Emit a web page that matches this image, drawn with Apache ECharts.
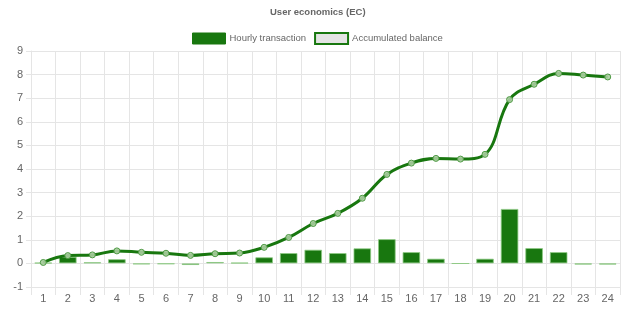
<!DOCTYPE html>
<html>
<head>
<meta charset="utf-8">
<style>html,body{margin:0;padding:0;background:#fff;}#c{width:626px;height:309px;}</style>
<script src="https://cdn.jsdelivr.net/npm/echarts@6/dist/echarts.min.js"></script>
</head>
<body>
<div id="c"></div>
<script>
var categories = ['1','2','3','4','5','6','7','8','9','10','11','12','13','14','15','16','17','18','19','20','21','22','23','24'];
var hourlyTransaction = [0.03,0.28,0.05,0.18,-0.04,-0.03,-0.07,0.06,0.03,0.26,0.44,0.58,0.44,0.64,1.03,0.48,0.20,-0.01,0.20,2.31,0.65,0.48,-0.05,-0.05];
var accumulatedBalance = [0.04,0.33,0.36,0.53,0.47,0.43,0.34,0.41,0.44,0.68,1.10,1.69,2.12,2.76,3.77,4.25,4.45,4.42,4.62,6.94,7.59,8.05,7.98,7.90];
var yTicks = {min:-1, max:9, interval:1};

var green = '#18770f';
var gridColor = '#e5e5e5';
var font = '"Liberation Sans", Arial, Helvetica, sans-serif';
var chart = echarts.init(document.getElementById('c'), null, {renderer:'canvas'});
chart.setOption({
  animation:false,
  title:{text:'User economics (EC)', left:265, top:2,
    textStyle:{fontFamily:font, fontSize:9.5, fontWeight:'bold', color:'#666'}},
  legend:{left:187, top:27, itemWidth:33, itemHeight:11, itemGap:8, icon:'rect',
    textStyle:{fontFamily:font, fontSize:9.5, color:'#666', padding:[0,0,0,-1]},
    data:[{name:'Hourly transaction', itemStyle:{color:green, borderColor:green, borderWidth:1}},
          {name:'Accumulated balance', itemStyle:{color:'#e4e4e4', borderColor:green, borderWidth:2}}]},
  grid:{left:31, right:6, top:51, bottom:22, containLabel:false},
  xAxis:{type:'category', data:categories, boundaryGap:true,
    axisLine:{show:true, onZero:false, lineStyle:{color:gridColor}},
    axisTick:{show:true, length:8, alignWithLabel:false, lineStyle:{color:gridColor}},
    axisLabel:{fontFamily:font, fontSize:11, color:'#666', margin:6},
    splitLine:{show:true, lineStyle:{color:gridColor}}},
  yAxis:{type:'value', min:yTicks.min, max:yTicks.max, interval:yTicks.interval,
    axisLine:{show:true, lineStyle:{color:gridColor}},
    axisTick:{show:true, length:5, lineStyle:{color:gridColor}},
    axisLabel:{fontFamily:font, fontSize:11, color:'#666', margin:8},
    splitLine:{show:true, lineStyle:{color:gridColor}}},
  series:[
    {name:'Hourly transaction', type:'bar', data:hourlyTransaction, barWidth:'72%', z:2,
      itemStyle:{color:green, borderColor:'rgba(140,200,130,0.8)', borderWidth:1}},
    {name:'Accumulated balance', type:'line', data:accumulatedBalance, smooth:0.4, z:3,
      symbol:'circle', symbolSize:6, showAllSymbol:true,
      lineStyle:{color:green, width:3},
      itemStyle:{color:'rgba(170,205,160,0.9)', borderColor:'#4f9a45', borderWidth:1}}
  ]
});
</script>
</body>
</html>
